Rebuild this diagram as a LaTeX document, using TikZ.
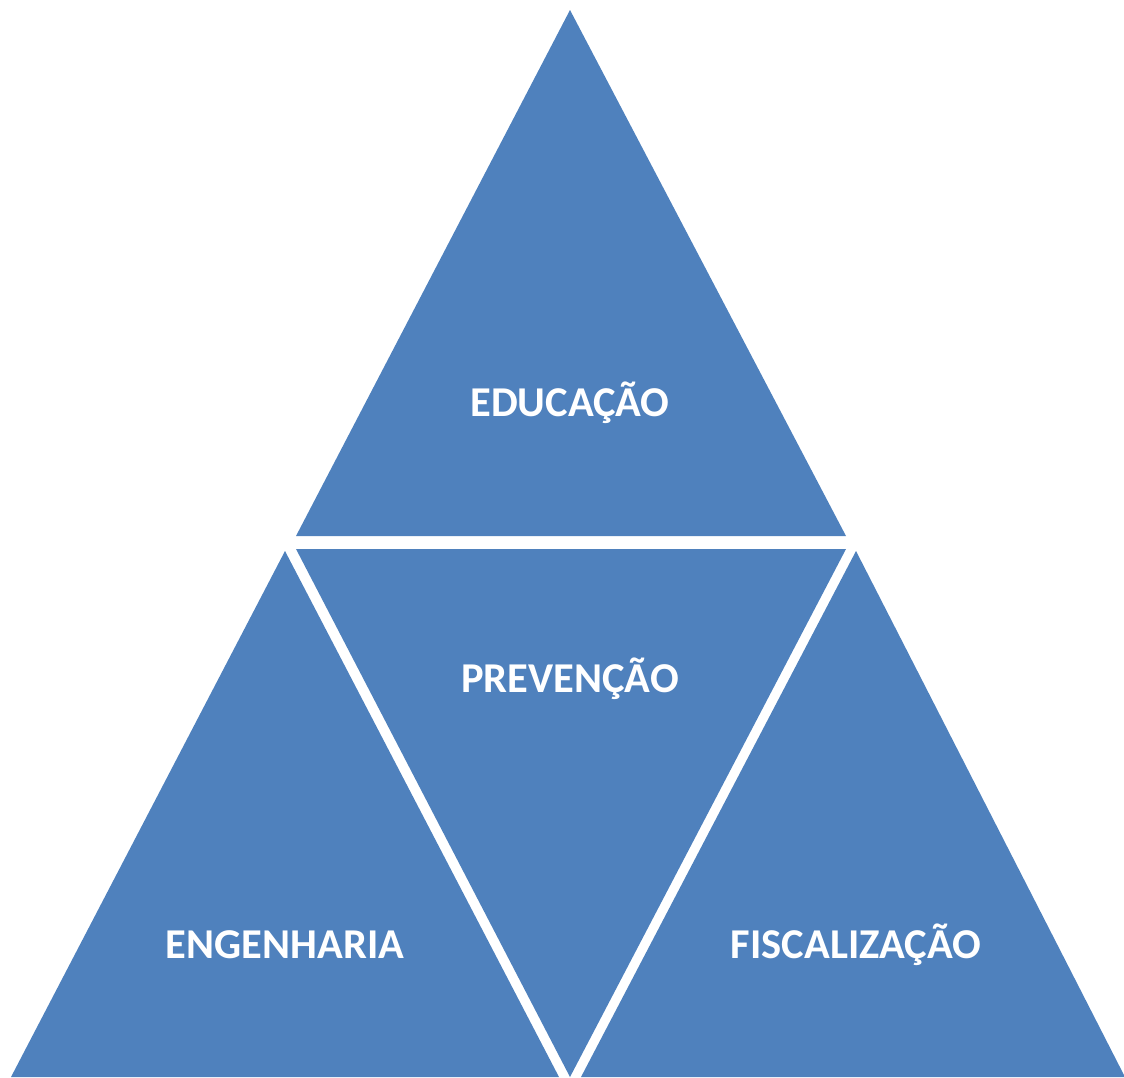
\documentclass[tikz,border=0pt]{standalone}
\usepackage{fontspec}
\setmainfont{Carlito}
\usetikzlibrary{calc}
\definecolor{triblue}{HTML}{4F81BD}
\tikzset{
  tri/.style={fill=triblue, draw=none},
  label/.style={text=white, font=\bfseries\fontsize{42.5}{50}\selectfont, inner sep=0pt}
}
\begin{document}
\begin{tikzpicture}[x=1pt, y=-1pt]
			%%%%% FRAME %%%%%
			\useasboundingbox (0, 0) rectangle (1124, 1077);
			
			%%%%% TOP %%%%%
			\coordinate (topA) at (570, 10);
			\coordinate (topL) at (296, 536);
			\coordinate (topR) at (846, 536);
			\fill[tri] (topA) -- (topR) -- (topL) -- cycle;
			
			%%%%% MIDDLE %%%%%
			\coordinate (midL) at (296, 549);
			\coordinate (midR) at (846, 549);
			\coordinate (midB) at (570, 1077);
			\fill[tri] (midL) -- (midR) -- (midB) -- cycle;
			
			%%%%% LEFT %%%%%
			\coordinate (lefA) at (285, 551);
			\coordinate (lefL) at (11, 1077);
			\coordinate (lefR) at (559, 1077);
			\fill[tri] (lefA) -- (lefR) -- (lefL) -- cycle;
			
			%%%%% RIGHT %%%%%
			\coordinate (rigA) at (856, 551);
			\coordinate (rigL) at (581, 1077);
			\coordinate (rigR) at (1125, 1077);
			\fill[tri] (rigA) -- (rigR) -- (rigL) -- cycle;
			
			%%%%% TEXT %%%%%
			\node[label] (educ) at (570, 403) {EDUCAÇÃO};
			\node[label] (prev) at (570, 679) {PREVENÇÃO};
			\node[label] (engn) at (285, 945) {ENGENHARIA};
			\node[label] (fisc) at (856, 945) {FISCALIZAÇÃO};
		\end{tikzpicture}
\end{document}
